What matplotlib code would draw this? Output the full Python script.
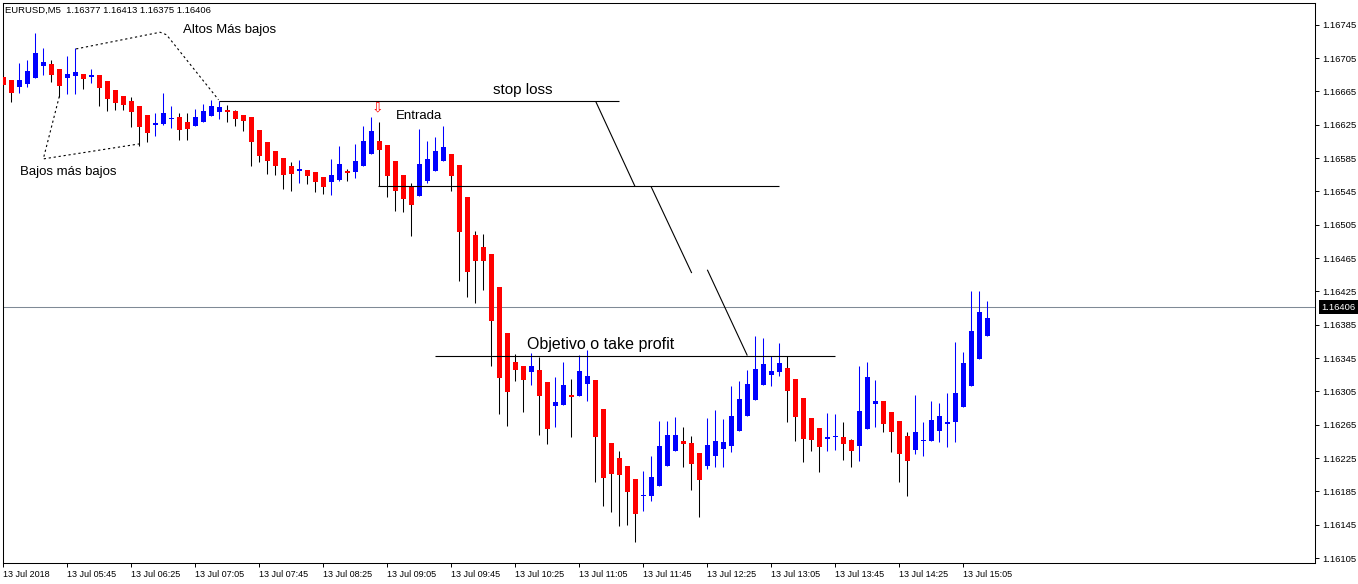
import matplotlib
matplotlib.use("Agg")
import matplotlib.pyplot as plt
import matplotlib.transforms as mtrans
import numpy as np

plt.rcParams['font.family'] = ['Liberation Sans', 'DejaVu Sans']

# ---------------- data (EURUSD M5, 13 Jul 2018 05:05 .. 15:20) ----------------
opens = [
    1.16682, 1.16679, 1.16670, 1.16674, 1.16681, 1.16696, 1.16698, 1.16692, 1.16681, 1.16684,
    1.16686, 1.16683, 1.16685, 1.16678, 1.16667, 1.16660, 1.16654, 1.16648, 1.16637, 1.16625,
    1.16626, 1.16632, 1.16634, 1.16628, 1.16623, 1.16628, 1.16635, 1.16640, 1.16643, 1.16642,
    1.16637, 1.16634, 1.16619, 1.16604, 1.16593, 1.16585, 1.16576, 1.16570, 1.16571, 1.16568,
    1.16562, 1.16556, 1.16559, 1.16570, 1.16568, 1.16575, 1.16590, 1.16605, 1.16601, 1.16582,
    1.16565, 1.16551, 1.16539, 1.16558, 1.16570, 1.16581, 1.16590, 1.16577, 1.16538, 1.16493,
    1.16478, 1.16470, 1.16430, 1.16375, 1.16340, 1.16336, 1.16328, 1.16331, 1.16316, 1.16288,
    1.16289, 1.16301, 1.16299, 1.16314, 1.16319, 1.16284, 1.16243, 1.16225, 1.16216, 1.16200,
    1.16179, 1.16180, 1.16191, 1.16215, 1.16234, 1.16245, 1.16243, 1.16231, 1.16215, 1.16228,
    1.16236, 1.16240, 1.16257, 1.16276, 1.16295, 1.16313, 1.16325, 1.16328, 1.16333, 1.16320,
    1.16297, 1.16273, 1.16261, 1.16248, 1.16250, 1.16250, 1.16247, 1.16240, 1.16260, 1.16290,
    1.16293, 1.16280, 1.16269, 1.16251, 1.16235, 1.16245, 1.16246, 1.16258, 1.16266, 1.16268,
    1.16286, 1.16312, 1.16344, 1.16372]

highs = [
    1.16688, 1.16679, 1.16699, 1.16703, 1.16735, 1.16717, 1.16703, 1.16692, 1.16708, 1.16717,
    1.16686, 1.16692, 1.16685, 1.16678, 1.16667, 1.16660, 1.16658, 1.16648, 1.16637, 1.16639,
    1.16663, 1.16648, 1.16639, 1.16639, 1.16644, 1.16650, 1.16655, 1.16653, 1.16649, 1.16643,
    1.16637, 1.16634, 1.16619, 1.16604, 1.16593, 1.16585, 1.16580, 1.16583, 1.16571, 1.16568,
    1.16562, 1.16584, 1.16599, 1.16572, 1.16602, 1.16623, 1.16634, 1.16628, 1.16601, 1.16582,
    1.16565, 1.16555, 1.16620, 1.16605, 1.16610, 1.16623, 1.16590, 1.16577, 1.16538, 1.16497,
    1.16494, 1.16470, 1.16430, 1.16375, 1.16350, 1.16336, 1.16351, 1.16346, 1.16316, 1.16322,
    1.16340, 1.16320, 1.16349, 1.16355, 1.16319, 1.16284, 1.16243, 1.16234, 1.16216, 1.16200,
    1.16210, 1.16228, 1.16270, 1.16270, 1.16274, 1.16262, 1.16252, 1.16231, 1.16273, 1.16283,
    1.16272, 1.16312, 1.16318, 1.16331, 1.16372, 1.16369, 1.16348, 1.16363, 1.16347, 1.16320,
    1.16297, 1.16273, 1.16261, 1.16279, 1.16278, 1.16268, 1.16248, 1.16336, 1.16340, 1.16319,
    1.16293, 1.16280, 1.16269, 1.16256, 1.16301, 1.16268, 1.16294, 1.16291, 1.16303, 1.16364,
    1.16352, 1.16426, 1.16426, 1.16414]

lows = [
    1.16658, 1.16652, 1.16663, 1.16670, 1.16681, 1.16685, 1.16676, 1.16658, 1.16662, 1.16662,
    1.16668, 1.16675, 1.16648, 1.16642, 1.16643, 1.16643, 1.16622, 1.16600, 1.16604, 1.16612,
    1.16625, 1.16621, 1.16607, 1.16607, 1.16623, 1.16628, 1.16635, 1.16632, 1.16628, 1.16624,
    1.16618, 1.16576, 1.16580, 1.16566, 1.16565, 1.16548, 1.16546, 1.16555, 1.16554, 1.16544,
    1.16542, 1.16541, 1.16558, 1.16558, 1.16561, 1.16575, 1.16590, 1.16551, 1.16538, 1.16521,
    1.16520, 1.16491, 1.16539, 1.16555, 1.16570, 1.16581, 1.16545, 1.16438, 1.16418, 1.16411,
    1.16427, 1.16335, 1.16278, 1.16263, 1.16318, 1.16280, 1.16313, 1.16253, 1.16242, 1.16262,
    1.16289, 1.16250, 1.16299, 1.16293, 1.16196, 1.16168, 1.16160, 1.16144, 1.16145, 1.16124,
    1.16161, 1.16173, 1.16191, 1.16215, 1.16234, 1.16214, 1.16187, 1.16154, 1.16212, 1.16214,
    1.16214, 1.16232, 1.16257, 1.16276, 1.16295, 1.16313, 1.16312, 1.16323, 1.16268, 1.16246,
    1.16220, 1.16233, 1.16208, 1.16234, 1.16235, 1.16223, 1.16214, 1.16222, 1.16260, 1.16262,
    1.16256, 1.16232, 1.16196, 1.16179, 1.16230, 1.16227, 1.16246, 1.16244, 1.16238, 1.16244,
    1.16286, 1.16312, 1.16344, 1.16372]

closes = [
    1.16673, 1.16663, 1.16679, 1.16690, 1.16711, 1.16700, 1.16685, 1.16672, 1.16686, 1.16688,
    1.16680, 1.16684, 1.16669, 1.16656, 1.16651, 1.16649, 1.16640, 1.16622, 1.16615, 1.16627,
    1.16639, 1.16633, 1.16619, 1.16620, 1.16634, 1.16642, 1.16647, 1.16646, 1.16640, 1.16632,
    1.16629, 1.16604, 1.16588, 1.16581, 1.16576, 1.16565, 1.16566, 1.16571, 1.16563, 1.16556,
    1.16550, 1.16565, 1.16578, 1.16567, 1.16582, 1.16606, 1.16618, 1.16595, 1.16563, 1.16546,
    1.16536, 1.16529, 1.16578, 1.16584, 1.16593, 1.16598, 1.16564, 1.16496, 1.16448, 1.16462,
    1.16461, 1.16390, 1.16321, 1.16304, 1.16331, 1.16319, 1.16335, 1.16299, 1.16260, 1.16292,
    1.16313, 1.16298, 1.16330, 1.16323, 1.16250, 1.16201, 1.16206, 1.16205, 1.16184, 1.16158,
    1.16181, 1.16202, 1.16240, 1.16253, 1.16253, 1.16242, 1.16218, 1.16199, 1.16241, 1.16246,
    1.16244, 1.16276, 1.16296, 1.16314, 1.16332, 1.16338, 1.16330, 1.16339, 1.16306, 1.16274,
    1.16248, 1.16247, 1.16238, 1.16250, 1.16252, 1.16242, 1.16234, 1.16282, 1.16322, 1.16294,
    1.16266, 1.16256, 1.16230, 1.16221, 1.16256, 1.16247, 1.16271, 1.16276, 1.16268, 1.16303,
    1.16339, 1.16378, 1.16400, 1.16393]

time_labels = ["13 Jul 2018", "13 Jul 05:45", "13 Jul 06:25", "13 Jul 07:05",
               "13 Jul 07:45", "13 Jul 08:25", "13 Jul 09:05", "13 Jul 09:45",
               "13 Jul 10:25", "13 Jul 11:05", "13 Jul 11:45", "13 Jul 12:25",
               "13 Jul 13:05", "13 Jul 13:45", "13 Jul 14:25", "13 Jul 15:05"]
bars_per_label = 8

price_ticks = [1.16105, 1.16145, 1.16185, 1.16225, 1.16265, 1.16305, 1.16345, 1.16385,
               1.16425, 1.16465, 1.16505, 1.16545, 1.16585, 1.16625, 1.16665, 1.16705,
               1.16745]

current_price = 1.16406
title_text = "EURUSD,M5  1.16377 1.16413 1.16375 1.16406"

# drawn objects (bar index, price)
stop_loss_line = ([27.0, 77.0], [1.16653, 1.16653])
entry_line = ([46.8, 97.0], [1.16551, 1.16551])
target_line = ([54.0, 104.0], [1.16348, 1.16348])
diag_segments = [([74.05, 78.96], [1.16653, 1.16551]),
                 ([80.96, 86.05], [1.16551, 1.16447]),
                 ([88.0, 93.0], [1.16451, 1.16348])]
dotted_lows = ([7.0, 5.0, 17.0], [1.16659, 1.16584, 1.16602])
dotted_highs = ([9.1, 19.6, 20.4, 26.9], [1.16716, 1.16736, 1.16733, 1.16655])

# ---------------- figure ----------------
W, H = 1358, 584
fig = plt.figure(figsize=(W / 100, H / 100), dpi=100)
fig.patch.set_facecolor('white')
ax = fig.add_axes([2.7 / W, (H - 563.3) / H, (1315 - 2.7) / W, (563.3 - 3) / H])

o = np.array(opens); h = np.array(highs); l = np.array(lows); c = np.array(closes)
x = np.arange(len(o))
up = c > o
body_col = np.where(up, '#0000FF', '#FF0000')
wick_col = np.where(up, '#0000FF', '#000000')

ax.axhline(current_price, color='#7f8a96', lw=0.75, zorder=1)
ax.vlines(x, l, h, colors=wick_col, linewidth=0.75, zorder=2)
heights = np.maximum(np.abs(c - o), 0.000016)
bottoms = (o + c) / 2 - heights / 2
ax.bar(x, heights, bottom=bottoms, width=0.65, color=body_col, linewidth=0, zorder=3)

# drawn lines
for xs, ys in [stop_loss_line, entry_line, target_line] + diag_segments:
    ax.plot(xs, ys, color='black', lw=0.8, zorder=4, solid_capstyle='butt')
for xs, ys in [dotted_lows, dotted_highs]:
    ax.plot(xs, ys, color='black', lw=0.8, ls=(0, (2, 2.5)), zorder=4)

# text annotations
ax.text(22.5, 1.16739, "Altos Más bajos", fontsize=9.5, ha='left', va='center', zorder=5)
ax.text(2.1, 1.16568, "Bajos más bajos", fontsize=9.5, ha='left', va='center', zorder=5)
ax.text(61.2, 1.16667, "stop loss", fontsize=11, ha='left', va='center', zorder=5)
ax.text(49.05, 1.16635, "Entrada", fontsize=9.5, ha='left', va='center', zorder=5)
ax.text(65.4, 1.16361, "Objetivo o take profit", fontsize=11.5, ha='left', va='center', zorder=5)
ax.text(46.75, 1.16646, "\u21e9", fontsize=10, color='#FF0000', ha='center', va='center',
        family=['DejaVu Sans'], zorder=5)

fig.text(5 / W, 1 - 10 / H, title_text, fontsize=6.8, ha='left', va='center')

# axes
ax.set_xlim(-0.075, 163.96)
ax.set_ylim(1.160987, 1.167711)
ax.set_xticks([k * bars_per_label for k in range(len(time_labels))])
ax.set_xticklabels(time_labels, ha='left', fontsize=6.5)
ax.yaxis.tick_right()
ax.set_yticks(price_ticks)
ax.set_yticklabels([f"{v:.5f}" for v in price_ticks], fontsize=6.8)
ax.tick_params(axis='x', length=3, width=0.7, pad=1.5, direction='out')
ax.tick_params(axis='y', length=3, width=0.7, pad=2, direction='out')
for s in ax.spines.values():
    s.set_linewidth(0.75)
    s.set_color('black')

blend = mtrans.blended_transform_factory(ax.transAxes, ax.transData)
ax.annotate(f"{current_price:.5f}", xy=(1, current_price), xycoords=blend,
            xytext=(4.5, 0), textcoords='offset points', ha='left', va='center',
            fontsize=6.8, color='white', annotation_clip=False,
            bbox=dict(boxstyle='square,pad=0.25', facecolor='black', edgecolor='none'))

fig.savefig('out.png', dpi=100)
